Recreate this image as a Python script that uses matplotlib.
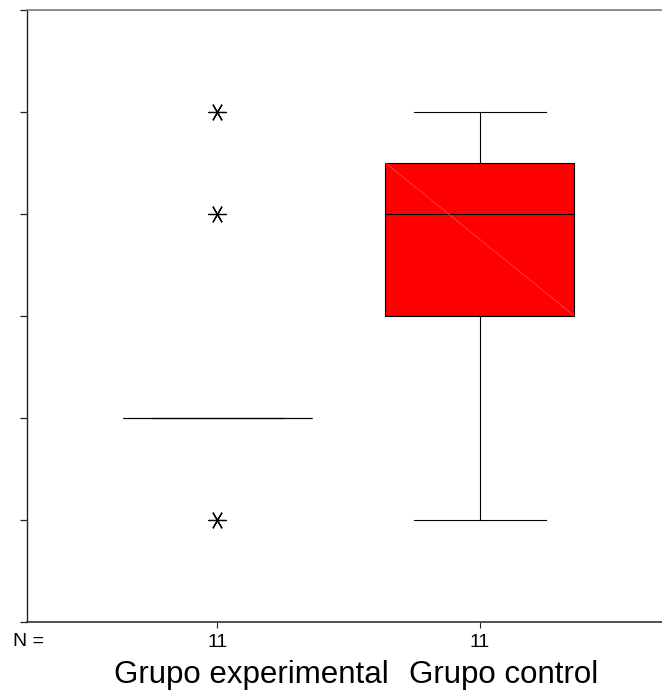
import matplotlib
matplotlib.use("Agg")
import matplotlib.pyplot as plt

plt.rcParams['font.family'] = ['Liberation Sans', 'DejaVu Sans']

# ---- data ----
groups = ["Grupo experimental", "Grupo control"]
n_counts = [11, 11]
medians = [2, 4]
q1s = [2, 3]
q3s = [2, 4.5]
whisker_lo = [2, 1]
whisker_hi = [2, 5]
outliers = [[1, 4, 5], []]
y_ticks = [0, 1, 2, 3, 4, 5, 6]

stats = []
for i, g in enumerate(groups):
    stats.append(dict(label=g, med=medians[i], q1=q1s[i], q3=q3s[i],
                      whislo=whisker_lo[i], whishi=whisker_hi[i],
                      fliers=outliers[i]))

W, H = 662, 697
fig = plt.figure(figsize=(W / 100, H / 100), dpi=100)
ax = fig.add_axes([27 / W, 75 / H, 1 - 27 / W, 612 / H])

positions = [1, 2]
box_w = 0.72
ax.bxp(stats, positions=positions, widths=box_w, capwidths=0.5,
       patch_artist=True, showfliers=True,
       boxprops=dict(facecolor='#ff0000', edgecolor='black', linewidth=0.8),
       medianprops=dict(color='black', linewidth=0.8),
       whiskerprops=dict(color='black', linewidth=0.8),
       capprops=dict(color='black', linewidth=0.8),
       flierprops=dict(marker=(6, 2, 90), markersize=13, markeredgecolor='black',
                       markerfacecolor='black', markeredgewidth=0.9, linestyle='none'))

# faint rendering diagonal inside the filled box
for p, lo, hi in zip(positions, q1s, q3s):
    if hi > lo:
        ax.plot([p - box_w / 2, p + box_w / 2], [hi, lo], color='#ff5050',
                linewidth=0.5, zorder=3)

ax.set_xlim(1 - 190.5 / 262.5, 2 + 182 / 262.5)
ax.set_ylim(0, 6)
ax.set_yticks(y_ticks)
ax.set_yticklabels([])
ax.set_xticks(positions)
ax.set_xticklabels([str(n) for n in n_counts], fontsize=14)
ax.tick_params(axis='y', direction='out', length=5, width=0.9, color='#222222')
ax.tick_params(axis='x', direction='out', length=4, width=0.8, color='#222222', pad=4.5)

ax.spines['right'].set_visible(False)
ax.spines['top'].set_color('#777777')
ax.spines['top'].set_linewidth(1.2)
ax.spines['left'].set_color('#222222')
ax.spines['left'].set_linewidth(1.0)
ax.spines['bottom'].set_color('#333333')
ax.spines['bottom'].set_linewidth(1.2)

fig.text(13 / W, (H - 641) / H, "N =", fontsize=14, va='center', ha='left')

label_x = [251.5 / W, 504 / W]
for g, lx in zip(groups, label_x):
    fig.text(lx, 14 / H, g, fontsize=22.5, ha='center', va='baseline')

fig.savefig("out.png", dpi=100)
